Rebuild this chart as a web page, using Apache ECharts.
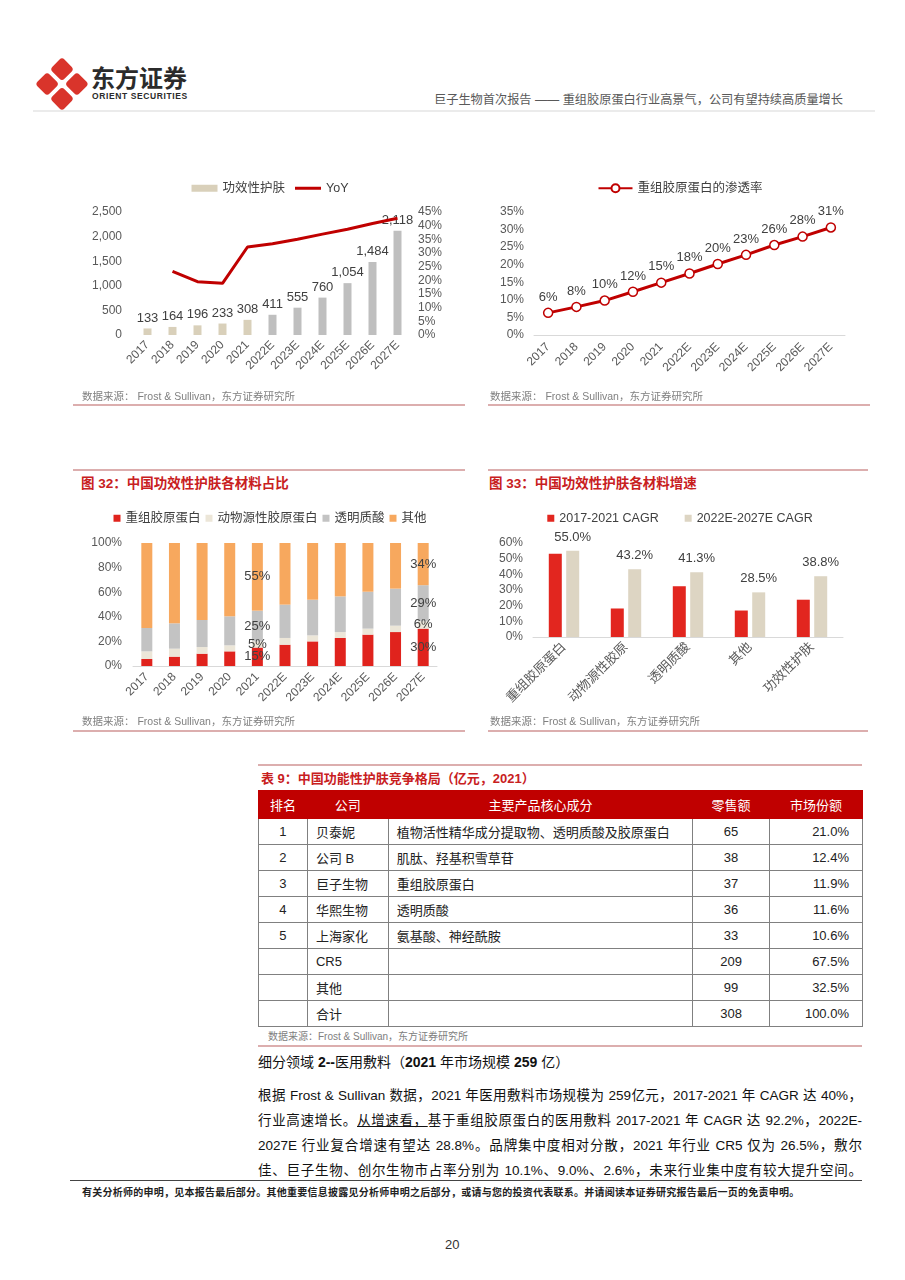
<!DOCTYPE html>
<html>
<head>
<meta charset="utf-8">
<script src="https://cdn.jsdelivr.net/npm/echarts@6/dist/echarts.min.js"></script>
<style>
  body { margin: 0; background: #fff; width: 905px; height: 1280px; position: relative; overflow: hidden;
         font-family: "Liberation Sans", "Noto Sans CJK SC", sans-serif; color: #222; }
  .abs { position: absolute; white-space: nowrap; }
  .hr { position: absolute; height: 1.5px; background: #dcaeae; }
  .src { position: absolute; font-size: 10.5px; color: #808080; white-space: nowrap; }
  .ttl { position: absolute; font-size: 13.5px; font-weight: bold; color: #c8201e; white-space: nowrap; }
  .chart { position: absolute; width: 400px; height: 220px; }
  table { position: absolute; left: 258px; top: 790px; width: 605px; border-collapse: collapse; font-size: 13px; }
  th { background: #c00000; color: #fff; font-weight: normal; height: 25px; border: 1px solid #c00000; }
  td { border: 1px solid #808080; height: 25px; padding: 0 8px; color: #222; }
  td.c { text-align: center; }
  td.r { text-align: right; padding-right: 13px; }
  .para { position: absolute; left: 258px; width: 604px; font-size: 13.5px; text-align: justify;
          text-align-last: justify; white-space: nowrap; color: #111; }
</style>
</head>
<body>
<!-- header -->
<svg class="abs" style="left:35px;top:57px" width="54" height="54" viewBox="0 0 54 54">
  <g transform="rotate(45 27 27)" fill="#d9342b">
    <rect x="8" y="8" width="17" height="17" rx="3.5"/>
    <rect x="29" y="8" width="17" height="17" rx="3.5"/>
    <rect x="8" y="29" width="17" height="17" rx="3.5"/>
    <rect x="29" y="29" width="17" height="17" rx="3.5"/>
  </g>
</svg>
<div class="abs" style="left:91px;top:59px;font-size:24px;font-weight:bold;color:#2b2b2b;font-family:'Noto Sans CJK SC'">东方证券</div>
<div class="abs" style="left:92px;top:91px;font-size:8.5px;font-weight:bold;letter-spacing:0.6px;color:#2b2b2b">ORIENT SECURITIES</div>
<div class="abs" style="right:62px;top:90px;font-size:12.2px;color:#595959">巨子生物首次报告 —— 重组胶原蛋白行业高景气，公司有望持续高质量增长</div>
<div class="hr" style="left:33px;top:110px;width:842px;height:2px;background:#ebebeb"></div>

<!-- top charts -->
<div id="c1" class="chart" style="left:70px;top:170px"></div>
<div id="c2" class="chart" style="left:480px;top:170px"></div>
<div class="src" style="left:82px;top:388px">数据来源：&nbsp;Frost &amp; Sullivan，东方证券研究所</div>
<div class="src" style="left:490px;top:388px">数据来源：&nbsp;Frost &amp; Sullivan，东方证券研究所</div>
<div class="hr" style="left:73px;top:404px;width:392px"></div>
<div class="hr" style="left:488px;top:404px;width:382px"></div>

<!-- bottom charts -->
<div class="hr" style="left:73px;top:469px;width:392px"></div>
<div class="hr" style="left:488px;top:469px;width:380px"></div>
<div class="ttl" style="left:81px;top:472px">图 32：中国功效性护肤各材料占比</div>
<div class="ttl" style="left:489px;top:472px">图 33：中国功效性护肤各材料增速</div>
<div id="c3" class="chart" style="left:70px;top:495px"></div>
<div id="c4" class="chart" style="left:480px;top:495px"></div>
<div class="src" style="left:82px;top:713px">数据来源：&nbsp;Frost &amp; Sullivan，东方证券研究所</div>
<div class="src" style="left:490px;top:713px">数据来源：Frost &amp; Sullivan，东方证券研究所</div>
<div class="hr" style="left:73px;top:730px;width:392px"></div>
<div class="hr" style="left:488px;top:730px;width:380px"></div>

<!-- table -->
<div class="hr" style="left:258px;top:764px;width:604px"></div>
<div class="ttl" style="left:261px;top:768px;font-size:13px">表 9：中国功能性护肤竞争格局（亿元，2021）</div>
<table>
  <colgroup><col style="width:49px"><col style="width:81px"><col style="width:305px"><col style="width:77px"><col style="width:93px"></colgroup>
  <tr><th>排名</th><th>公司</th><th>主要产品核心成分</th><th>零售额</th><th>市场份额</th></tr>
  <tr><td class="c">1</td><td>贝泰妮</td><td>植物活性精华成分提取物、透明质酸及胶原蛋白</td><td class="c">65</td><td class="r">21.0%</td></tr>
  <tr><td class="c">2</td><td>公司 B</td><td>肌肽、羟基积雪草苷</td><td class="c">38</td><td class="r">12.4%</td></tr>
  <tr><td class="c">3</td><td>巨子生物</td><td>重组胶原蛋白</td><td class="c">37</td><td class="r">11.9%</td></tr>
  <tr><td class="c">4</td><td>华熙生物</td><td>透明质酸</td><td class="c">36</td><td class="r">11.6%</td></tr>
  <tr><td class="c">5</td><td>上海家化</td><td>氨基酸、神经酰胺</td><td class="c">33</td><td class="r">10.6%</td></tr>
  <tr><td></td><td>CR5</td><td></td><td class="c">209</td><td class="r">67.5%</td></tr>
  <tr><td></td><td>其他</td><td></td><td class="c">99</td><td class="r">32.5%</td></tr>
  <tr><td></td><td>合计</td><td></td><td class="c">308</td><td class="r">100.0%</td></tr>
</table>
<div class="src" style="left:268px;top:1028px;font-size:10px">数据来源：Frost &amp; Sullivan，东方证券研究所</div>
<div class="hr" style="left:258px;top:1045px;width:604px"></div>

<!-- text -->
<div class="abs" style="left:258px;top:1051px;font-size:14px;color:#111">细分领域 <b>2--</b>医用敷料（<b>2021</b> 年市场规模 <b>259</b> 亿）</div>
<div class="para" style="top:1084px">根据 Frost &amp; Sullivan 数据，2021 年医用敷料市场规模为 259亿元，2017-2021 年 CAGR 达 40%，</div>
<div class="para" style="top:1109px">行业高速增长。<span style="text-decoration:underline">从增速看，</span>基于重组胶原蛋白的医用敷料 2017-2021 年 CAGR 达 92.2%，2022E-</div>
<div class="para" style="top:1134px">2027E 行业复合增速有望达 28.8%。品牌集中度相对分散，2021 年行业 CR5 仅为 26.5%，敷尔</div>
<div class="para" style="top:1159px">佳、巨子生物、创尔生物市占率分别为 10.1%、9.0%、2.6%，未来行业集中度有较大提升空间。</div>
<div class="hr" style="left:70px;top:1180px;width:792px;height:1px;background:#444"></div>
<div class="abs" style="left:82px;top:1184px;font-size:10px;font-weight:bold;letter-spacing:0.25px;color:#222">有关分析师的申明，见本报告最后部分。其他重要信息披露见分析师申明之后部分，或请与您的投资代表联系。并请阅读本证券研究报告最后一页的免责申明。</div>
<div class="abs" style="left:445px;top:1237px;font-size:13px;color:#333">20</div>

<script>
// chart data
const years = ['2017', '2018', '2019', '2020', '2021', '2022E', '2023E', '2024E', '2025E', '2026E', '2027E'];
const marketSize = [133, 164, 196, 233, 308, 411, 555, 760, 1054, 1484, 2118];
const marketYoy = [null, 23.3, 19.5, 18.9, 32.2, 33.4, 35.0, 36.9, 38.7, 40.8, 42.7];
const penetration = [6.3, 8.0, 9.8, 12.3, 14.9, 17.5, 20.2, 22.8, 25.6, 28.0, 30.6];

const shareRecombinant = [5.7, 7.6, 10.0, 11.9, 15.0, 17.3, 20.0, 22.8, 25.5, 27.6, 30.4];
const shareAnimal = [6.2, 6.5, 5.4, 4.9, 5.0, 5.5, 4.9, 4.8, 4.9, 5.2, 6.0];
const shareHA = [19.0, 20.6, 22.0, 23.6, 25.0, 27.1, 29.0, 29.0, 30.0, 30.1, 29.3];
const shareOther = [69.1, 65.3, 62.6, 59.6, 55.0, 50.1, 46.1, 43.4, 39.6, 37.1, 34.3];

const materials = ['重组胶原蛋白', '动物源性胶原', '透明质酸', '其他', '功效性护肤'];
const cagr1721 = [53.1, 18.2, 32.4, 16.9, 23.8];
const cagr2227 = [55.0, 43.2, 41.3, 28.5, 38.8];

const FONT = '"Liberation Sans", "Noto Sans CJK SC", sans-serif';
const axisTxt = { color: '#595959', fontSize: 12, fontFamily: FONT };

// chart 1: market size + YoY
let c1 = echarts.init(document.getElementById('c1'));
c1.setOption({
  animation: false,
  textStyle: { fontFamily: FONT },
  legend: {
    top: 7, itemGap: 10,
    textStyle: { color: '#404040', fontSize: 12.5 },
    data: [
      { name: '功效性护肤', icon: 'rect', itemStyle: { color: '#d9d0ba' } },
      { name: 'YoY', icon: 'path://M0,0L26,0L26,3L0,3Z', itemStyle: { color: '#c00000' } }
    ],
    itemWidth: 26, itemHeight: 7
  },
  grid: { left: 65, right: 60, top: 42, bottom: 55 },
  xAxis: {
    type: 'category', data: years,
    axisLine: { show: false }, axisTick: { show: false },
    axisLabel: Object.assign({ rotate: 45, interval: 0, margin: 8 }, axisTxt)
  },
  yAxis: [
    {
      type: 'value', min: 0, max: 2500, interval: 500, splitLine: { show: false },
      axisLabel: Object.assign({ formatter: v => v.toLocaleString('en-US'), margin: 13 }, axisTxt)
    },
    {
      type: 'value', min: 0, max: 45, interval: 5, splitLine: { show: false },
      axisLabel: Object.assign({ formatter: '{value}%', margin: 8 }, axisTxt)
    }
  ],
  series: [
    {
      name: '功效性护肤', type: 'bar', barWidth: 8,
      data: marketSize.map((v, i) => ({ value: v, itemStyle: { color: i < 5 ? '#d9d0ba' : '#bfbfbf' } })),
      label: { show: true, position: 'top', distance: 4, color: '#404040', fontSize: 13,
               formatter: p => p.value.toLocaleString('en-US') }
    },
    {
      name: 'YoY', type: 'line', yAxisIndex: 1, data: marketYoy, symbol: 'none',
      itemStyle: { color: '#c00000' }, lineStyle: { color: '#c00000', width: 3 }, z: 5
    }
  ]
});

// chart 2: penetration rate
let c2 = echarts.init(document.getElementById('c2'));
c2.setOption({
  animation: false,
  textStyle: { fontFamily: FONT },
  legend: {
    top: 7, itemWidth: 34, itemHeight: 10,
    textStyle: { color: '#404040', fontSize: 12.5 }
  },
  grid: { left: 54, right: 35, top: 42, bottom: 55 },
  xAxis: {
    type: 'category', data: years,
    axisLine: { lineStyle: { color: '#d9d9d9' } }, axisTick: { show: false },
    axisLabel: Object.assign({ rotate: 45, interval: 0, margin: 10 }, axisTxt)
  },
  yAxis: {
    type: 'value', min: 0, max: 35, interval: 5, splitLine: { show: false },
    axisLabel: Object.assign({ formatter: '{value}%', margin: 10 }, axisTxt)
  },
  series: [{
    name: '重组胶原蛋白的渗透率', type: 'line', data: penetration,
    symbol: 'circle', symbolSize: 9,
    itemStyle: { color: '#fff', borderColor: '#c00000', borderWidth: 1.5 },
    lineStyle: { color: '#c00000', width: 3 },
    label: { show: true, position: 'top', distance: 4, color: '#404040', fontSize: 13,
             formatter: p => Math.round(p.value) + '%' }
  }]
});

// chart 3: material share (stacked)
const labelIdx = [4, 10];
function shareSeries(name, arr, color) {
  return {
    name: name, type: 'bar', stack: 'share', barWidth: 11,
    itemStyle: { color: color },
    data: arr.map((v, i) => labelIdx.includes(i) ? { value: v, label: { show: true } } : v),
    label: { show: false, position: 'inside', color: '#404040', fontSize: 13,
             formatter: p => Math.round(p.value) + '%' }
  };
}
let c3 = echarts.init(document.getElementById('c3'));
c3.setOption({
  animation: false,
  textStyle: { fontFamily: FONT },
  legend: {
    top: 12, icon: 'rect', itemWidth: 7, itemHeight: 7, itemGap: 5,
    textStyle: { color: '#404040', fontSize: 12.5 }
  },
  grid: { left: 63, right: 33, top: 48, bottom: 49 },
  xAxis: {
    type: 'category', data: years,
    axisLine: { lineStyle: { color: '#d9d9d9' } }, axisTick: { show: false },
    axisLabel: Object.assign({ rotate: 45, interval: 0, margin: 9 }, axisTxt)
  },
  yAxis: {
    type: 'value', min: 0, max: 100, interval: 20, splitLine: { show: false },
    axisLabel: Object.assign({ formatter: '{value}%', margin: 11 }, axisTxt)
  },
  series: [
    shareSeries('重组胶原蛋白', shareRecombinant, '#e0231d'),
    shareSeries('动物源性胶原蛋白', shareAnimal, '#ece6d8'),
    shareSeries('透明质酸', shareHA, '#c3c3c3'),
    shareSeries('其他', shareOther, '#f7a85e')
  ]
});

// chart 4: CAGR by material
let c4 = echarts.init(document.getElementById('c4'));
c4.setOption({
  animation: false,
  textStyle: { fontFamily: FONT },
  legend: {
    top: 12, icon: 'rect', itemWidth: 7, itemHeight: 7, itemGap: 26,
    textStyle: { color: '#404040', fontSize: 12.5 }
  },
  grid: { left: 53, right: 37, top: 48, bottom: 78 },
  xAxis: {
    type: 'category', data: materials,
    axisLine: { lineStyle: { color: '#d9d9d9' } }, axisTick: { show: false },
    axisLabel: Object.assign({}, axisTxt, { rotate: 45, interval: 0, margin: 8, fontSize: 13 })
  },
  yAxis: {
    type: 'value', min: 0, max: 60, interval: 10, splitLine: { show: false },
    axisLabel: Object.assign({ formatter: '{value}%', margin: 10 }, axisTxt)
  },
  series: [
    { name: '2017-2021 CAGR', type: 'bar', barWidth: 13, barGap: '34%', data: cagr1721,
      itemStyle: { color: '#e2261f' } },
    { name: '2022E-2027E CAGR', type: 'bar', barWidth: 13, data: cagr2227,
      itemStyle: { color: '#ddd5c3' },
      label: { show: true, position: 'top', distance: 7, color: '#404040', fontSize: 13,
               formatter: p => p.value.toFixed(1) + '%' } }
  ]
});
</script>
</body>
</html>
